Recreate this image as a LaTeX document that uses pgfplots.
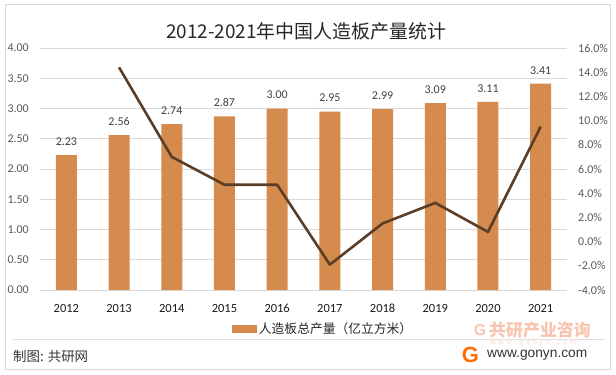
\documentclass[border=0pt]{standalone}
\usepackage{fontspec}
\usepackage{pgfplots}
\pgfplotsset{compat=1.18}
\setmainfont{Carlito}
\newfontfamily\cjk{Noto Sans CJK SC}
\newfontfamily\arial{Liberation Sans}
\definecolor{barcol}{RGB}{212,139,77}
\definecolor{linecol}{RGB}{92,62,38}
\definecolor{gridcol}{RGB}{217,217,217}
\definecolor{tickcol}{RGB}{89,89,89}
\definecolor{labcol}{RGB}{64,64,64}
\definecolor{wmcol}{RGB}{247,196,176}
\begin{document}
\begin{tikzpicture}[x=1bp,y=1bp]
\path[use as bounding box] (0,0) rectangle (616,374);
\draw[gray!30, line width=0.8bp] (5,5) rectangle (610,370);
% title
\node[font={\cjk\fontsize{19}{22}\selectfont}, text=black!85, inner sep=0pt] at (306,342.3) {2012-2021年中国人造板产量统计};
% bars
\begin{axis}[
  at={(40bp,84bp)}, anchor=south west,
  width=527bp, height=242bp, scale only axis,
  xmin=-0.5, xmax=9.5, ymin=0, ymax=4,
  ytick distance=0.5,
  xtick={0,...,9},
  xticklabels={2012,2013,2014,2015,2016,2017,2018,2019,2020,2021},
  major tick length=0pt,
  axis line style={draw=none},
  ymajorgrids, grid style={gridcol, line width=0.8bp},
  /pgf/number format/assume math mode=true,
  yticklabel style={font=\fontsize{12}{14}\selectfont, text=tickcol, anchor=east, inner sep=0pt, xshift=-11bp,
    /pgf/number format/fixed, /pgf/number format/fixed zerofill, /pgf/number format/precision=2},
  xticklabel style={font=\fontsize{12.5}{14}\selectfont, text=black!90, anchor=center, inner sep=0pt, yshift=-18bp},
  legend style={draw=none, fill=none, at={(0.537,-0.161)}, anchor=center,
    font={\cjk\fontsize{12.8}{14}\selectfont}, text=black!85, inner sep=0pt,
    /tikz/every even column/.append style={column sep=0pt}},
  legend image code/.code={\fill[barcol] (0bp,-4bp) rectangle (25bp,4bp);},
]
\addplot[ybar, bar width=21bp, bar shift=0pt, fill=barcol, draw=none,
  nodes near coords={\pgfmathprintnumber[fixed,fixed zerofill,precision=2]{\pgfplotspointmeta}},
  every node near coord/.append style={font=\fontsize{12}{14}\selectfont, text=labcol, anchor=center, yshift=13.5bp}]
  coordinates {(0,2.23) (1,2.56) (2,2.74) (3,2.87) (4,3.00) (5,2.95) (6,2.99) (7,3.09) (8,3.11) (9,3.41)};
\addlegendentry{人造板总产量（亿立方米）}
\end{axis}
% growth line
\begin{axis}[
  at={(40bp,84bp)}, anchor=south west,
  width=527bp, height=242bp, scale only axis,
  xmin=-0.5, xmax=9.5, ymin=-4, ymax=16,
  ytick distance=2,
  axis x line=none,
  axis y line*=right,
  axis line style={draw=none},
  major tick length=0pt,
  /pgf/number format/assume math mode=true,
  yticklabel={\pgfmathprintnumber[fixed,fixed zerofill,precision=1]{\tick}\%},
  yticklabel style={font=\fontsize{12}{14}\selectfont, text=tickcol, anchor=west, inner sep=0pt, xshift=11bp},
]
\addplot[linecol, line width=2.6bp, line join=round, no markers]
  coordinates {(1,14.4) (2,7.0) (3,4.7) (4,4.7) (5,-1.9) (6,1.5) (7,3.2) (8,0.8) (9,9.5)};
\end{axis}
% footer
\draw[gray!25, line width=0.8bp] (13,35) -- (605,35);
\node[anchor=west, font={\cjk\fontsize{13.5}{16}\selectfont}, text=black!80, inner sep=0pt] at (13,18) {制图: 共研网};
\node[font={\arial\bfseries\fontsize{16}{16}\selectfont}, text=wmcol, inner sep=0pt] at (480,44) {G};
\node[anchor=west, font={\cjk\bfseries\fontsize{17}{19}\selectfont}, text=wmcol, inner sep=0pt] at (489,44) {共研产业咨询};
\node[anchor=west, font={\arial\fontsize{8}{9}\selectfont}, text=wmcol!60, inner sep=0pt] at (490,30.5) {w w w . g o n y n . c o m};
\node[font={\arial\bfseries\fontsize{22}{22}\selectfont}, text=orange!85!red, inner sep=0pt] at (470.5,19) {G};
\node[anchor=west, font={\arial\fontsize{13.8}{15}\selectfont}, text=black!80, inner sep=0pt] at (487,19) {www.gonyn.com};
\end{tikzpicture}
\end{document}
